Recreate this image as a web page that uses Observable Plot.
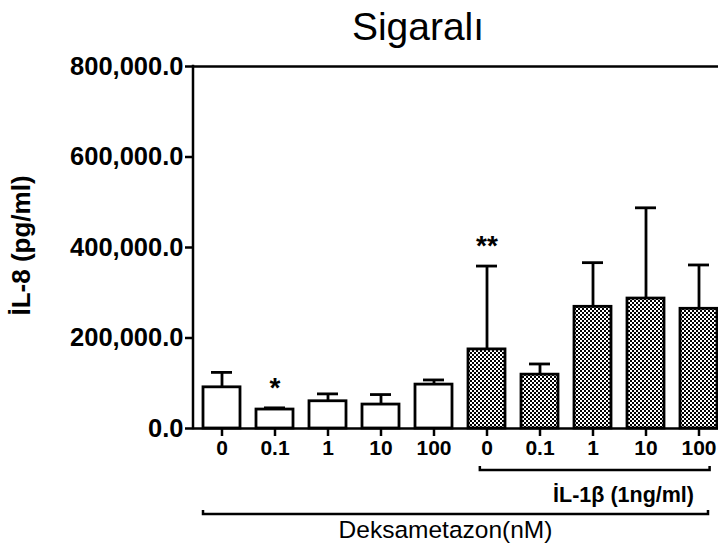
<!DOCTYPE html>
<html>
<head>
<meta charset="utf-8">
<script src="https://cdn.jsdelivr.net/npm/d3@7"></script>
<script src="https://cdn.jsdelivr.net/npm/@observablehq/plot@0.6"></script>
<style>
  html, body { margin: 0; padding: 0; background: white; }
  #title { height: 50px; line-height: 53px; padding-left: 118px; width: 600px; text-align: center;
           font-family: "Liberation Sans", Arial, sans-serif; font-size: 39px; color: black; }
  svg { display: block; }
</style>
</head>
<body>
<div id="title">Sigaralı</div>
<div id="chart"></div>
<script>
const tickLabels = ["0", "0.1", "1", "10", "100", "0", "0.1", "1", "10", "100"];
const groups = ["plain", "plain", "plain", "plain", "plain", "il1b", "il1b", "il1b", "il1b", "il1b"];
const means = [91000, 41900, 60200, 52900, 97000, 174800, 119000, 268900, 287200, 264500];
const sems = [33000, 3700, 16300, 22100, 10300, 184200, 23600, 97600, 200500, 96900];
const yTicks = [0, 200000, 400000, 600000, 800000];
const stars = [{i: 1, s: "*"}, {i: 5, s: "**"}];
const yLabel = "İL-8 (pg/ml)";
const bracketInner = "İL-1β (1ng/ml)";
const bracketOuter = "Deksametazon(nM)";

const data = tickLabels.map((l, i) => ({i, label: l, group: groups[i], mean: means[i], sem: sems[i]}));
const starData = stars.map(d => ({...d, top: means[d.i] + sems[d.i]}));

const font = "Liberation Sans, Arial, sans-serif";

function brackets(index, scales, values, dims) {
  const x = scales.x, y = scales.y;
  const bw = typeof x.bandwidth === "function" ? x.bandwidth() : (x.bandwidth || 36.7);
  const y0 = y(0);
  const g = d3.create("svg:g").attr("fill", "none").attr("stroke", "black").attr("stroke-width", 2.5);
  // left axis line
  g.append("line").attr("x1", dims.marginLeft).attr("x2", dims.marginLeft)
    .attr("y1", y(0) + 1.25).attr("y2", y(800000) - 1.25);
  // inner bracket
  const ax = x(5) + bw * 0.32, bx = x(9) + bw * 0.8, by = y0 + 42;
  g.append("path").attr("d", `M${ax},${by - 4}V${by}H${bx}V${by - 4}`);
  // outer bracket
  const cx = x(0), dx = x(9) + bw - 9, dy = y0 + 86;
  g.append("path").attr("d", `M${cx},${dy - 4}V${dy}H${dx}V${dy - 4}`);
  const t = g.append("g").attr("stroke", "none").attr("fill", "black").attr("font-family", font);
  t.append("text").attr("x", x(9) + 14).attr("y", y0 + 74).attr("text-anchor", "end")
    .attr("font-size", 21.5).attr("font-weight", "bold").text(bracketInner);
  t.append("text").attr("x", (cx + dx) / 2 - 10).attr("y", y0 + 110).attr("text-anchor", "middle")
    .attr("font-size", 24.5).text(bracketOuter);
  return g.node();
}

const chart = Plot.plot({
  width: 718,
  height: 501,
  marginTop: 16,
  marginLeft: 193,
  marginRight: 0,
  marginBottom: 123,
  style: {fontFamily: font, background: "white", color: "black", overflow: "visible"},
  x: {type: "band", domain: d3.range(10), range: [202, 718], paddingInner: 0.31, paddingOuter: 0},
  y: {domain: [0, 800000]},
  marks: [
    Plot.ruleX(data, {x: "i", y1: "mean", y2: d => d.mean + d.sem, strokeWidth: 2.8}),
    Plot.tickY(data, {x: "i", y: d => d.mean + d.sem, strokeWidth: 2.8, insetLeft: 8, insetRight: 8}),
    Plot.barY(data.filter(d => d.group === "plain"), {x: "i", y: "mean", fill: "white", stroke: "black", strokeWidth: 2.8}),
    Plot.barY(data.filter(d => d.group === "il1b"), {x: "i", y: "mean", fill: "url(#checker)", stroke: "black", strokeWidth: 2.8}),
    Plot.axisY({ticks: yTicks, tickFormat: d3.format(",.1f"), tickSize: 8, tickPadding: 2, fontSize: 25.5, fontWeight: "bold", strokeWidth: 2.5, label: null}),
    Plot.axisX({tickFormat: i => tickLabels[i], tickSize: 8, tickPadding: 4, fontSize: 21, fontWeight: "bold", strokeWidth: 2.5, label: null}),
    Plot.ruleY([0, 800000], {strokeWidth: 2.5}),
    Plot.text(starData, {x: "i", y: "top", text: "s", dy: -20, fontSize: 28, fontWeight: "bold"}),
    Plot.text([yLabel], {frameAnchor: "left", textAnchor: "middle", text: d => d, rotate: -90, dx: -171.5, dy: -2, fontSize: 26, fontWeight: "bold"}),
    brackets
  ]
});

const defs = document.createElementNS("http://www.w3.org/2000/svg", "defs");
defs.innerHTML = `<pattern id="checker" width="4" height="4" patternUnits="userSpaceOnUse">
  <rect width="4" height="4" fill="white"/><rect width="2" height="2" fill="black"/>
  <rect x="2" y="2" width="2" height="2" fill="black"/></pattern>`;
chart.insertBefore(defs, chart.firstChild);
document.getElementById("chart").appendChild(chart);
</script>
</body>
</html>
